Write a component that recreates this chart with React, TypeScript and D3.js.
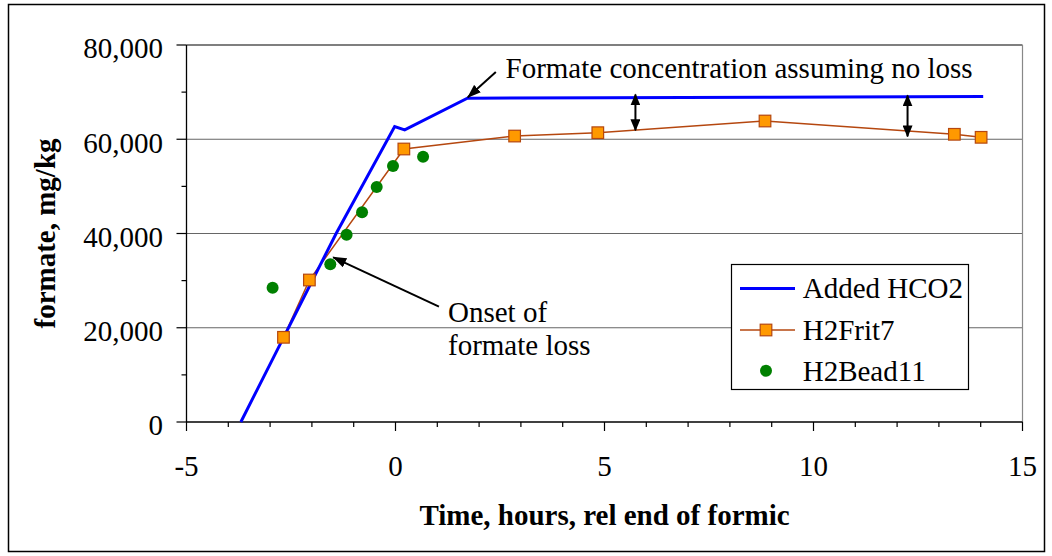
import React from "react";
import * as d3 from "d3";

// ---- data ----
const seriesNames = ["Added HCO2", "H2Frit7", "H2Bead11"];
const addedX = [-3.7, -1.42, -0.02, 0.22, 1.72, 5.0, 9.0, 14.06];
const addedY = [0, 40000, 62700, 62000, 68700, 68800, 68900, 69050];
const fritX = [-2.68, -2.06, 0.2, 2.85, 4.84, 8.84, 13.37, 14.01];
const fritY = [17970, 30130, 57930, 60680, 61390, 63870, 61050, 60410];
const beadX = [-2.94, -1.56, -1.17, -0.8, -0.45, -0.06, 0.66];
const beadY = [28500, 33470, 39740, 44500, 49870, 54320, 56300];
const xMajorTicks = [-5, 0, 5, 10, 15];
const yMajorTicks = [0, 20000, 40000, 60000, 80000];
const xTitle = "Time, hours, rel end of formic";
const yTitle = "formate, mg/kg";
const noteTop = "Formate concentration assuming no loss";
const noteOnset = ["Onset of", "formate loss"];
// annotation arrows in data coordinates [x1,y1,x2,y2] (tail -> head)
const arrowNoLoss = [2.4, 74270, 1.73, 68900];
const arrowOnset = [1.04, 24470, -1.49, 34950];
const doubleArrows = [
  [5.74, 69500, 5.74, 61900],
  [12.25, 69300, 12.25, 60600],
];

const W = 1052;
const H = 556;
const FONT = "'Liberation Serif', 'Times New Roman', serif";

export default function App() {
  const x = d3.scaleLinear().domain([-5, 15]).range([186.5, 1022.5]);
  const y = d3.scaleLinear().domain([0, 80000]).range([422, 45]);
  const fmt = d3.format(",");
  const xMinor = d3.range(-5, 15.001, 1);
  const yMinor = d3.range(0, 80001, 10000);

  const lineGen = d3
    .line<[number, number]>()
    .x((d) => x(d[0]))
    .y((d) => y(d[1]));
  const addedPts = addedX.map((v, i) => [v, addedY[i]] as [number, number]);
  const fritPts = fritX.map((v, i) => [v, fritY[i]] as [number, number]);

  const blue = "#0000FF";
  const brown = "#B5470F";
  const orange = "#FF9900";
  const green = "#008000";

  const [plotL, plotR] = x.range();
  const [plotB, plotT] = y.range();

  const lg = { x: 731.5, y: 264.5, w: 237, h: 125 };

  return (
    <svg
      width={W}
      height={H}
      style={{ position: "absolute", left: 0, top: 0, background: "#fff" }}
      fontFamily={FONT}
    >
      <defs>
        <marker id="head" viewBox="0 0 14 10" refX="13" refY="5" markerWidth="14" markerHeight="10" markerUnits="userSpaceOnUse" orient="auto">
          <path d="M0,0 L14,5 L0,10 Z" fill="#000" />
        </marker>
        <marker id="headS" viewBox="0 0 12 10" refX="11" refY="5" markerWidth="12" markerHeight="10" markerUnits="userSpaceOnUse" orient="auto-start-reverse">
          <path d="M0,0 L12,5 L0,10 Z" fill="#000" />
        </marker>
      </defs>
      <rect x={8.5} y={4.5} width={1036} height={547} fill="#fff" stroke="#000" strokeWidth={1.5} />

      {/* gridlines */}
      {yMajorTicks.filter((t) => t > 0 && t < 80000).map((t) => (
        <line key={t} x1={plotL} x2={plotR} y1={y(t)} y2={y(t)} stroke="#666" strokeWidth={1.2} />
      ))}
      <line x1={plotL} x2={plotR} y1={plotT} y2={plotT} stroke="#000" strokeWidth={1.2} />
      <line x1={plotR} x2={plotR} y1={plotT} y2={plotB} stroke="#888" strokeWidth={1.2} />

      {/* y axis */}
      <line x1={plotL} x2={plotL} y1={plotT} y2={plotB} stroke="#000" strokeWidth={1.3} />
      {yMinor.map((t) => (
        <line key={t} x1={t % 20000 === 0 ? plotL - 10 : plotL - 5} x2={plotL} y1={y(t)} y2={y(t)} stroke="#000" strokeWidth={1.2} />
      ))}
      {yMajorTicks.map((t) => (
        <text key={t} x={163} y={y(t) + 13.3} textAnchor="end" fontSize={29} fill="#000">
          {fmt(t)}
        </text>
      ))}
      {/* x axis */}
      <line x1={plotL} x2={plotR} y1={plotB} y2={plotB} stroke="#000" strokeWidth={1.3} />
      {xMinor.map((t) => (
        <line key={t} x1={x(t)} x2={x(t)} y1={plotB} y2={xMajorTicks.includes(t) ? plotB + 9 : plotB + 5} stroke="#000" strokeWidth={1.2} />
      ))}
      {xMajorTicks.map((t) => (
        <text key={t} x={x(t)} y={475.7} textAnchor="middle" fontSize={29} fill="#000">
          {t}
        </text>
      ))}

      {/* axis titles */}
      <text x={(plotL + plotR) / 2} y={525} textAnchor="middle" fontSize={29} fontWeight="bold" fill="#000">
        {xTitle}
      </text>
      <text transform={`translate(55,${(plotT + plotB) / 2}) rotate(-90)`} textAnchor="middle" fontSize={29} fontWeight="bold" fill="#000">
        {yTitle}
      </text>

      {/* series */}
      <path d={lineGen(fritPts) || ""} fill="none" stroke={brown} strokeWidth={1.5} />
      <path d={lineGen(addedPts) || ""} fill="none" stroke={blue} strokeWidth={3} strokeLinejoin="miter" />
      {fritPts.map((p, i) => (
        <rect key={i} x={x(p[0]) - 5.8} y={y(p[1]) - 5.8} width={11.6} height={11.6} fill={orange} stroke={brown} strokeWidth={1.2} />
      ))}
      {beadX.map((v, i) => (
        <circle key={i} cx={x(v)} cy={y(beadY[i])} r={6} fill={green} />
      ))}

      {/* annotations */}
      <line x1={x(arrowNoLoss[0])} y1={y(arrowNoLoss[1])} x2={x(arrowNoLoss[2])} y2={y(arrowNoLoss[3])} stroke="#000" strokeWidth={2} markerEnd="url(#head)" />
      <text x={505.5} y={78} fontSize={29} fill="#000">{noteTop}</text>
      <line x1={x(arrowOnset[0])} y1={y(arrowOnset[1])} x2={x(arrowOnset[2])} y2={y(arrowOnset[3])} stroke="#000" strokeWidth={2} markerEnd="url(#head)" />
      <text x={448} y={321.7} fontSize={29} fill="#000">
        <tspan x={448}>{noteOnset[0]}</tspan>
        <tspan x={448} dy={33.3}>{noteOnset[1]}</tspan>
      </text>
      {doubleArrows.map((a, i) => (
        <line key={i} x1={x(a[0])} y1={y(a[1])} x2={x(a[2])} y2={y(a[3])} stroke="#000" strokeWidth={2} markerStart="url(#headS)" markerEnd="url(#headS)" />
      ))}

      {/* legend */}
      <rect x={lg.x} y={lg.y} width={lg.w} height={lg.h} fill="#fff" stroke="#000" strokeWidth={1.2} />
      <line x1={740} x2={795} y1={288.5} y2={288.5} stroke={blue} strokeWidth={3} />
      <text x={802.7} y={298.3} fontSize={29} fill="#000">{seriesNames[0]}</text>
      <line x1={740} x2={795} y1={330} y2={330} stroke={brown} strokeWidth={1.5} />
      <rect x={766 - 5.8} y={330 - 5.8} width={11.6} height={11.6} fill={orange} stroke={brown} strokeWidth={1.2} />
      <text x={802.7} y={340.3} fontSize={29} fill="#000">{seriesNames[1]}</text>
      <circle cx={766} cy={370.7} r={6} fill={green} />
      <text x={802.7} y={381.3} fontSize={29} fill="#000">{seriesNames[2]}</text>
    </svg>
  );
}
